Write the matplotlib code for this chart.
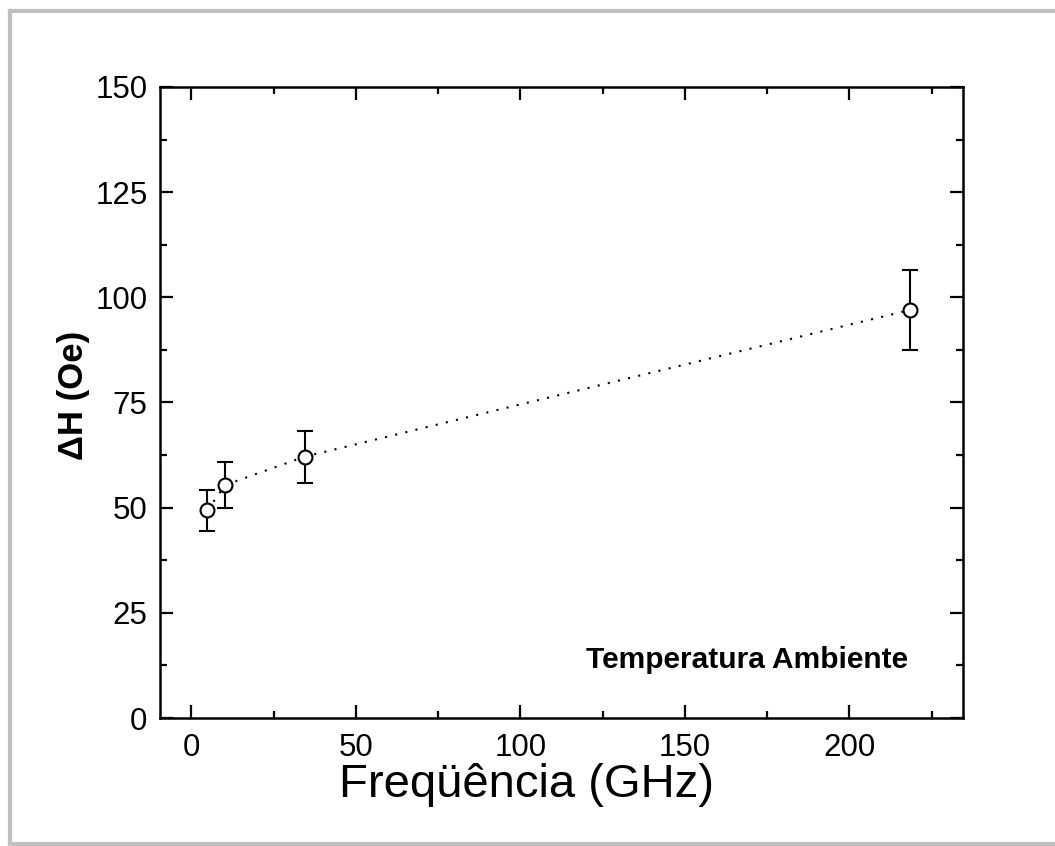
import matplotlib
matplotlib.use("Agg")
import matplotlib.pyplot as plt
from matplotlib.lines import Line2D
from matplotlib.ticker import MultipleLocator

plt.rcParams['font.family'] = ['Liberation Sans', 'DejaVu Sans']

freq = [4.9, 10.3, 34.4, 218.5]
dH = [49.4, 55.4, 62.1, 97.0]
err = [4.9, 5.5, 6.2, 9.6]

fig = plt.figure(figsize=(10.55, 8.46), dpi=100)
ax = fig.add_axes([0.1517, 0.1513, 0.9128 - 0.1517, 0.8972 - 0.1513])

ax.plot(freq, dH, color="black", lw=1.5, ls=(0, (1, 4)), zorder=1)
ax.errorbar(freq, dH, yerr=err, fmt="o", mfc="white", mec="black", mew=1.5,
            ms=10, ecolor="black", elinewidth=1.5, capsize=6, capthick=1.5, zorder=3)

ax.set_xlim(-9.5, 234.5)
ax.set_ylim(0, 150)
ax.xaxis.set_major_locator(MultipleLocator(50))
ax.xaxis.set_minor_locator(MultipleLocator(25))
ax.yaxis.set_major_locator(MultipleLocator(25))
ax.yaxis.set_minor_locator(MultipleLocator(12.5))
ax.tick_params(which="both", direction="in", top=True, right=True, width=1.6, labelsize=22.5)
ax.tick_params(axis="x", pad=11)
ax.tick_params(axis="y", pad=9)
ax.tick_params(which="major", length=9.5)
ax.tick_params(which="minor", length=5)
for s in ax.spines.values():
    s.set_linewidth(1.8)

ax.set_xlabel("Freqüência (GHz)", fontsize=34)
ax.xaxis.set_label_coords(0.456, -0.072)
ax.set_ylabel("ΔH (Oe)", fontsize=25, fontweight="bold")
ax.yaxis.set_label_coords(-0.087, 0.512)
ax.text(0.9315, 0.092, "Temperatura Ambiente", transform=ax.transAxes, ha="right", va="center",
        fontsize=21.5, fontweight="bold")

# grey frame around the figure
c = "#c0c0c0"
W, H = 1055, 846
fig.add_artist(Line2D([10 / W, 10 / W], [1 - 11 / H, 1 - 844 / H], transform=fig.transFigure, color=c, lw=3))
fig.add_artist(Line2D([10 / W, 1], [1 - 11 / H, 1 - 11 / H], transform=fig.transFigure, color=c, lw=3))
fig.add_artist(Line2D([10 / W, 1], [1 - 844 / H, 1 - 844 / H], transform=fig.transFigure, color=c, lw=3))

fig.savefig("out.png", dpi=100)
